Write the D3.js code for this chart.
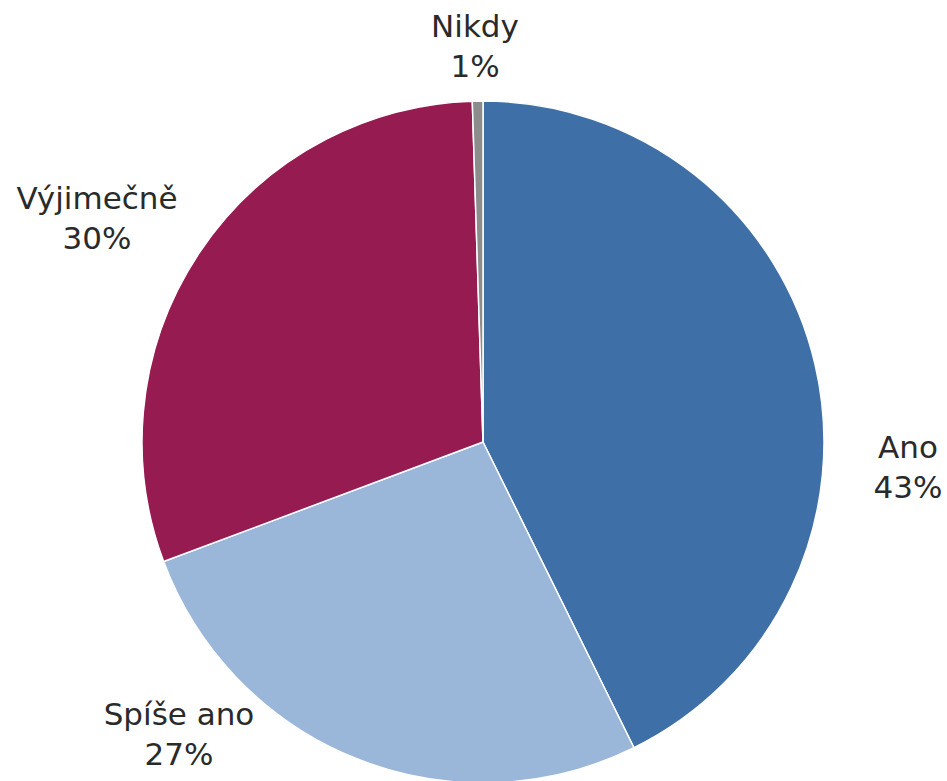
<!DOCTYPE html>
<html>
<head>
<meta charset="utf-8">
<script src="https://cdn.jsdelivr.net/npm/d3@7"></script>
<style>
  html, body { margin: 0; padding: 0; background: #fff; }
  svg { display: block; }
</style>
</head>
<body>
<svg id="chart" width="947" height="781"></svg>
<script>
// Data
const categories = ["Ano", "Spíše ano", "Výjimečně", "Nikdy"];
const values = [42.7, 26.6, 30.2, 0.5];
const colors = ["#3F6FA7", "#9AB6D9", "#961B51", "#8C8C8C"];

// Label layout (center x, first baseline y)
const labelPos = [
  [908, 458],
  [179, 725],
  [97, 209],
  [475, 37]
];

const W = 947, H = 781;
const cx = 483, cy = 442, R = 341;

const svg = d3.select("#chart");
const data = categories.map((c, i) => ({ cat: c, value: values[i], color: colors[i], i }));
const total = d3.sum(values);

const pie = d3.pie().sort(null).value(d => d.value);
const arc = d3.arc().innerRadius(0).outerRadius(R);

const g = svg.append("g").attr("transform", `translate(${cx},${cy})`);
g.selectAll("path")
  .data(pie(data))
  .join("path")
  .attr("d", arc)
  .attr("fill", d => d.data.color)
  .attr("stroke", "#ffffff")
  .attr("stroke-width", 1.5)
  .attr("stroke-linejoin", "round");

const fmt = v => Math.round(v / total * 100 + 1e-9) + "%";

const labels = svg.append("g")
  .attr("font-family", "'DejaVu Sans', Verdana, sans-serif")
  .attr("font-size", 31)
  .attr("fill", "#2a2a2a")
  .attr("text-anchor", "middle");

data.forEach((d, i) => {
  const [x, y] = labelPos[i];
  const t = labels.append("text").attr("x", x).attr("y", y);
  t.append("tspan").attr("x", x).attr("y", y).text(d.cat);
  t.append("tspan").attr("x", x).attr("y", y + 39.5).text(fmt(d.value));
});
</script>
</body>
</html>
